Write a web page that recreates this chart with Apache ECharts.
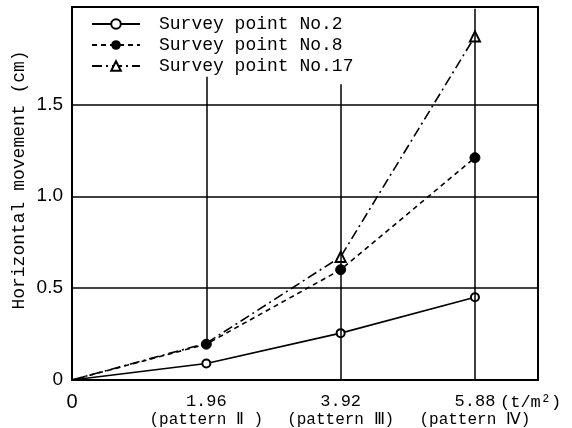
<!DOCTYPE html>
<html>
<head>
<meta charset="utf-8">
<script src="https://cdn.jsdelivr.net/npm/echarts@6/dist/echarts.min.js"></script>
<style>html,body{margin:0;padding:0;background:#fff}#c{width:572px;height:428px}</style>
</head>
<body>
<div id="c"></div>
<script>
var loads = [0, 1.96, 3.92, 5.88];
var no2 = [0, 0.09, 0.255, 0.45];
var no8 = [0, 0.195, 0.6, 1.21];
var no17 = [0, 0.2, 0.67, 1.87];
var no17Hidden = [0, 1.96];
var xTicks = [0, 1.96, 3.92, 5.88];
var xTickLabels = ['0', '1.96', '3.92', '5.88'];
var xPatterns = ['', '(pattern Ⅱ )', '(pattern Ⅲ)', '(pattern Ⅳ)'];
var yTicks = [0, 0.5, 1.0, 1.5];
var yTickLabels = ['0', '0.5', '1.0', '1.5'];
var yGrid = [0.5, 1.0, 1.5];
var dropX = [1.96, 3.92, 5.88];
var dropTop = [1.65, 1.61, 2.02];
var dropBottom = [0.2, 0, 0];
var seriesNames = ['Survey point No.2', 'Survey point No.8', 'Survey point No.17'];

function pts(arr, hidden) {
  hidden = hidden || [0];
  return loads.map(function (x, i) {
    var d = { value: [x, arr[i]] };
    if (hidden.indexOf(x) >= 0) d.symbol = 'none';
    return d;
  });
}
var mono = 'Liberation Mono';
var chart = echarts.init(document.getElementById('c'));
var markGrid = yGrid.map(function (v) { return { yAxis: v }; });
var markDrops = dropX.map(function (x, i) {
  return [{ coord: [x, dropTop[i]] }, { coord: [x, dropBottom[i]] }];
});
chart.setOption({
  backgroundColor: '#fff',
  animation: false,
  grid: { left: 72, right: 34, top: 7, bottom: 46, show: true, borderColor: '#000', borderWidth: 2, backgroundColor: 'transparent' },
  legend: {
    orient: 'vertical', left: 86, top: 10, itemWidth: 48, itemHeight: 12, itemGap: 3,
    textStyle: { fontFamily: mono, fontSize: 18, color: '#000', padding: [0, 0, 0, 14] },
    data: seriesNames
  },
  xAxis: {
    type: 'value', min: 0, max: 6.8, interval: 1.96,
    axisLine: { lineStyle: { color: '#000', width: 2 } },
    axisTick: { show: false },
    splitLine: { show: false },
    axisLabel: {
      customValues: xTicks, margin: 12, color: '#000',
      formatter: function (v) {
        var i = xTicks.indexOf(v);
        if (i < 0) return '';
        if (i === 0) return '{z|' + xTickLabels[i] + '}';
        return '{n|' + xTickLabels[i] + '}\n{p|' + xPatterns[i] + '}';
      },
      rich: {
        z: { fontFamily: 'Liberation Sans', fontSize: 20, lineHeight: 20, color: '#000' },
        n: { fontFamily: mono, fontSize: 17, lineHeight: 19, color: '#000' },
        p: { fontFamily: mono, fontSize: 16, lineHeight: 18, color: '#000' }
      }
    }
  },
  yAxis: {
    type: 'value', min: 0, max: 2.03, interval: 0.5,
    axisLine: { show: true, lineStyle: { color: '#000', width: 2 } },
    axisTick: { show: false },
    splitLine: { show: false },
    axisLabel: {
      customValues: yTicks, margin: 9, color: '#000', fontFamily: 'Liberation Sans', fontSize: 19,
      formatter: function (v) {
        var i = yTicks.indexOf(v);
        return i < 0 ? '' : yTickLabels[i];
      }
    }
  },
  graphic: [
    { type: 'text', x: 19, y: 180, rotation: Math.PI / 2,
      style: { text: 'Horizontal movement (cm)', fontFamily: mono, fontSize: 18, fill: '#000', textAlign: 'center', textVerticalAlign: 'middle' } },
    { type: 'text', left: 500, top: 394,
      style: { text: '(t/m²)', fontFamily: mono, fontSize: 17, fill: '#000' } }
  ],
  series: [
    {
      name: seriesNames[0], type: 'line', data: pts(no2),
      symbol: 'emptyCircle', symbolSize: 8,
      lineStyle: { color: '#000', width: 1.6, type: 'solid' },
      itemStyle: { color: '#000', borderColor: '#000', borderWidth: 1.5 },
      markLine: {
        silent: true, symbol: 'none', label: { show: false },
        lineStyle: { color: '#000', width: 1.5, type: 'solid' },
        data: markGrid.concat(markDrops)
      }
    },
    {
      name: seriesNames[1], type: 'line', data: pts(no8),
      symbol: 'circle', symbolSize: 10,
      lineStyle: { color: '#000', width: 1.6, type: [5, 4] },
      itemStyle: { color: '#000', borderColor: '#000' }
    },
    {
      name: seriesNames[2], type: 'line', data: pts(no17, no17Hidden),
      symbol: 'emptyTriangle', symbolSize: 10,
      lineStyle: { color: '#000', width: 1.6, type: [10, 4, 2, 4] },
      itemStyle: { color: '#000', borderColor: '#000', borderWidth: 1.5 }
    }
  ]
});
</script>
</body>
</html>
